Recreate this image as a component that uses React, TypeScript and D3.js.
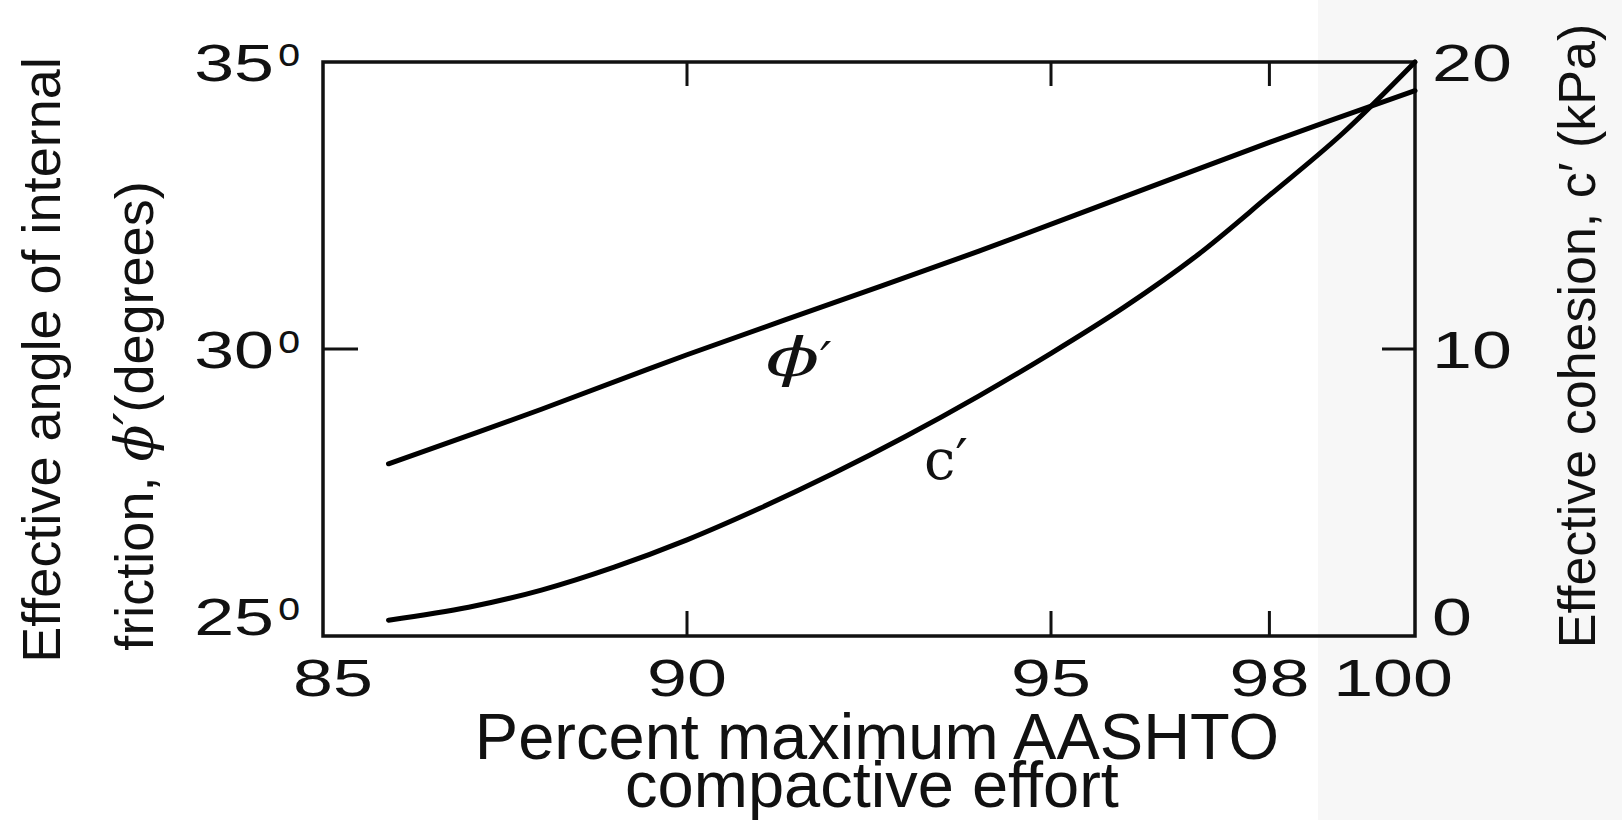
import * as d3 from 'd3'

// x axis: percent of maximum AASHTO compactive effort
const percentTicks = [85, 90, 95, 98, 100]
const topTicks = [90, 95, 98]
// left axis: effective friction angle (degrees)
const phiTicks = [25, 30, 35]
// right axis: effective cohesion (kPa)
const cohesionTicks = [0, 10, 20]

// phi' curve
const phiPercent = [85.9, 88, 90, 92, 94, 96, 98, 100]
const phiValues = [28.0, 28.95, 29.9, 30.8, 31.7, 32.65, 33.6, 34.5]

// c' curve
const cohesionPercent = [85.9, 87, 88, 89, 90, 91, 92, 93, 94, 95, 96, 97, 98, 99, 100]
const cohesionValues = [0.55, 1.0, 1.6, 2.4, 3.35, 4.45, 5.65, 6.95, 8.35, 9.85, 11.45, 13.25, 15.35, 17.5, 20.0]

const W = 1622
const H = 820
const left = 323
const right = 1415
const top = 62
const bottom = 636

const sans = '"Liberation Sans", Arial, Helvetica, sans-serif'
const serif = '"DejaVu Serif", "Liberation Serif", serif'
const tickFont = 52
const stretch = 1.38

const App = () => {
  const x = d3.scaleLinear().domain([85, 100]).range([left, right])
  const yPhi = d3.scaleLinear().domain([25, 35]).range([bottom, top])
  const yC = d3.scaleLinear().domain([0, 20]).range([bottom, top])

  const phiLine = d3
    .line<number>()
    .x((_, i) => x(phiPercent[i]))
    .y(d => yPhi(d))
    .curve(d3.curveCatmullRom)
  const cLine = d3
    .line<number>()
    .x((_, i) => x(cohesionPercent[i]))
    .y(d => yC(d))
    .curve(d3.curveCatmullRom)

  const innerX = percentTicks.filter(t => t !== 85 && t !== 100)
  const innerPhi = phiTicks.filter(t => t !== 25 && t !== 35)
  const innerC = cohesionTicks.filter(t => t !== 0 && t !== 20)

  // baseline of a vertical-axis label: the lowest one sits on the bottom line
  const labelBase = (y: number, i: number) => y + (i === 0 ? -1 : 19)

  return (
    <svg
      width={W}
      height={H}
      style={{ position: 'absolute', left: 0, top: 0, background: '#fff' }}
    >
      <rect x={1318} y={0} width={W - 1318} height={H} fill="#f7f7f7" />

      {/* frame */}
      <rect
        x={left}
        y={top}
        width={right - left}
        height={bottom - top}
        fill="none"
        stroke="#111"
        strokeWidth={3.5}
      />

      {/* ticks */}
      {innerX.map(t => (
        <line key={'b' + t} x1={x(t)} x2={x(t)} y1={bottom} y2={bottom - 25} stroke="#111" strokeWidth={3} />
      ))}
      {topTicks.map(t => (
        <line key={'t' + t} x1={x(t)} x2={x(t)} y1={top} y2={top + 24} stroke="#111" strokeWidth={3} />
      ))}
      {innerPhi.map(t => (
        <line key={'l' + t} x1={left} x2={left + 35} y1={yPhi(t)} y2={yPhi(t)} stroke="#111" strokeWidth={3} />
      ))}
      {innerC.map(t => (
        <line key={'r' + t} x1={right} x2={right - 33} y1={yC(t)} y2={yC(t)} stroke="#111" strokeWidth={3} />
      ))}

      {/* curves */}
      <path d={phiLine(phiValues) ?? ''} fill="none" stroke="#000" strokeWidth={5} strokeLinecap="round" />
      <path d={cLine(cohesionValues) ?? ''} fill="none" stroke="#000" strokeWidth={5} strokeLinecap="round" />

      {/* tick labels */}
      <g fontFamily={sans} fontSize={tickFont} fill="#111">
        {percentTicks.map((t, i) => (
          <text
            key={'xl' + t}
            transform={`translate(${x(t) + (i === 0 ? 10 : i === percentTicks.length - 1 ? -22 : 0)},696) scale(${stretch},1)`}
            textAnchor="middle"
          >
            {t}
          </text>
        ))}
        {phiTicks.map((t, i) => (
          <g key={'yl' + t}>
            <text transform={`translate(274,${labelBase(yPhi(t), i)}) scale(${stretch},1)`} textAnchor="end">
              {t}
            </text>
            <text x={278} y={labelBase(yPhi(t), i) - 15} fontSize={40}>
              o
            </text>
          </g>
        ))}
        {cohesionTicks.map((t, i) => (
          <text
            key={'yr' + t}
            transform={`translate(1432,${labelBase(yC(t), i)}) scale(${stretch},1)`}
            textAnchor="start"
          >
            {t}
          </text>
        ))}
      </g>

      {/* axis titles */}
      <g fontFamily={sans} fill="#111">
        <text x={877} y={759} fontSize={65} textAnchor="middle">
          Percent maximum AASHTO
        </text>
        <text x={872} y={807} fontSize={65} textAnchor="middle">
          compactive effort
        </text>
        <text transform="translate(60,360) rotate(-90)" fontSize={54} textAnchor="middle">
          Effective angle of internal
        </text>
        <text transform="translate(153,416) rotate(-90)" fontSize={54} textAnchor="middle">
          friction,{' '}
          <tspan fontFamily={serif} fontStyle="italic">ϕ′</tspan>
          (degrees)
        </text>
        <text transform="translate(1595,336) rotate(-90)" fontSize={52} textAnchor="middle">
          Effective cohesion, c′ (kPa)
        </text>
      </g>

      {/* curve labels */}
      <text
        transform="translate(766,376) scale(1.45,1)"
        fontFamily={serif}
        fontStyle="italic"
        fontSize={54}
        fill="#111"
      >
        ϕ
      </text>
      <text x={820} y={378} fontFamily={serif} fontStyle="italic" fontSize={50} fill="#111">
        ′
      </text>
      <text x={924} y={479} fontFamily={serif} fontSize={56} fill="#111">
        c′
      </text>
    </svg>
  )
}

export default App
